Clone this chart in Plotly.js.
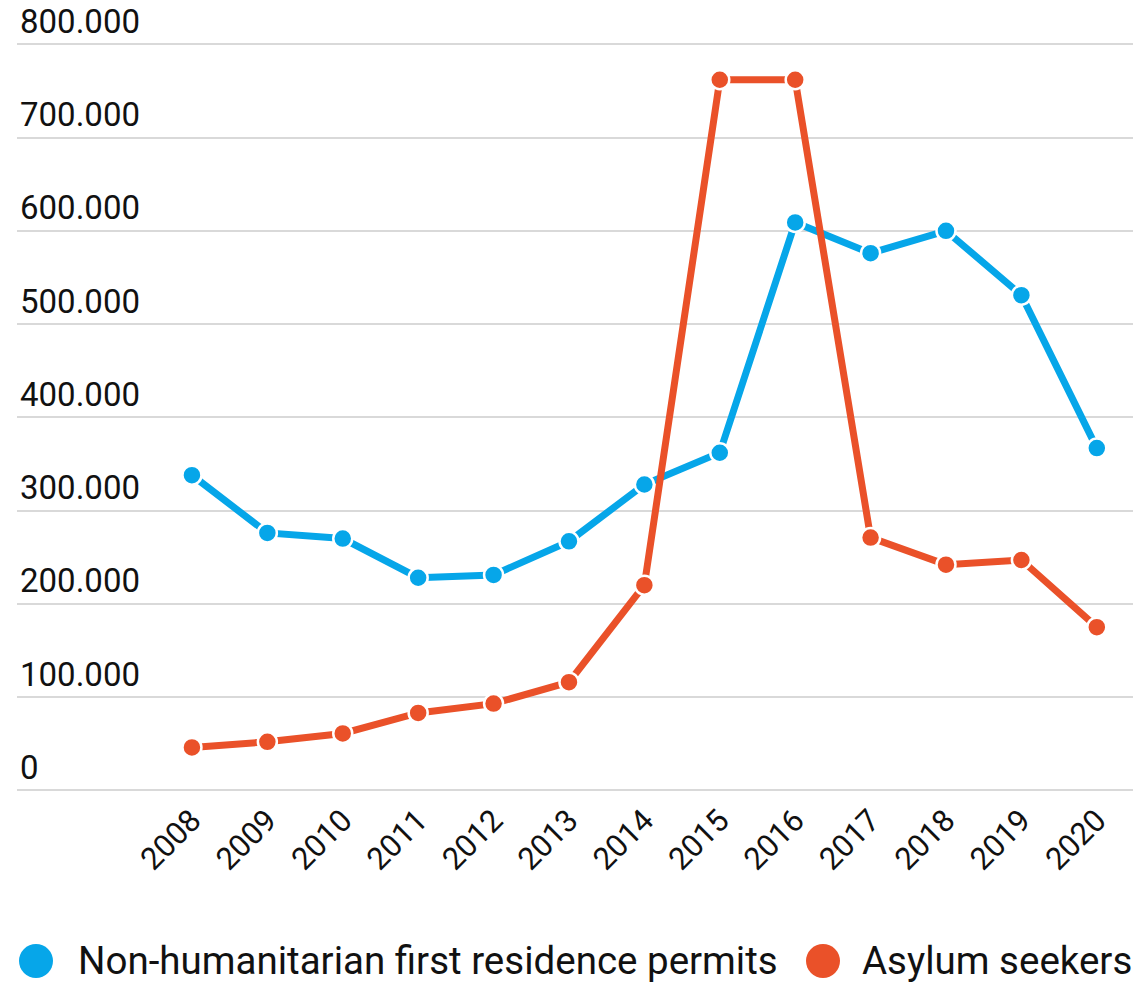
<!DOCTYPE html>
<html><head><meta charset="utf-8">
<script src="https://cdn.plot.ly/plotly-3.0.1.min.js"></script>
<style>html,body{margin:0;padding:0;background:#fff}#chart{width:1140px;height:983px}</style>
</head><body><div id="chart"></div>
<script>
const years = [2008,2009,2010,2011,2012,2013,2014,2015,2016,2017,2018,2019,2020];
const nonHumanitarian = [338000,276000,270000,228000,231000,267000,328000,362000,609000,576000,600000,531000,367000];
const asylumSeekers = [46000,52000,61000,83000,93000,116000,220000,762000,762000,271000,242000,247000,175000];
const seriesNames = ['Non-humanitarian first residence permits','Asylum seekers'];
const seriesColors = ['#06A6E9','#EA5129'];
const yTickVals = [0,100000,200000,300000,400000,500000,600000,700000,800000];
const yTickText = ['0','100.000','200.000','300.000','400.000','500.000','600.000','700.000','800.000'];

const W = 1140, H = 983;
const margin = {l: 17, r: 7, t: 0, b: 188};
const plotW = W - margin.l - margin.r, plotH = H - margin.t - margin.b;
const px2paperX = (px) => (px - margin.l) / plotW;
const px2paperY = (py) => (H - margin.b - py) / plotH;

const mk = (y, i) => ({
  x: years, y: y, type: 'scatter', mode: 'lines+markers', name: seriesNames[i],
  line: {color: seriesColors[i], width: 7},
  marker: {color: seriesColors[i], size: 19, line: {color: '#fff', width: 2.5}},
  cliponaxis: false, showlegend: false
});
const data = [mk(nonHumanitarian,0), mk(asylumSeekers,1)];

// custom legend (large circular swatches)
const legendY = 961;
const legendItems = [{cx: 36, tx: 76}, {cx: 823, tx: 860}];
const shapes = legendItems.map((it, i) => ({
  type: 'circle', xref: 'paper', yref: 'paper', xsizemode: 'pixel', ysizemode: 'pixel',
  xanchor: px2paperX(it.cx), yanchor: px2paperY(legendY),
  x0: -17, x1: 17, y0: -17, y1: 17,
  fillcolor: seriesColors[i], line: {width: 0}
}));
const annotations = legendItems.map((it, i) => ({
  xref: 'paper', yref: 'paper', x: px2paperX(it.tx), y: px2paperY(legendY - 1),
  xanchor: 'left', yanchor: 'middle', showarrow: false, text: seriesNames[i],
  font: {family: 'Roboto, sans-serif', size: 38.5, color: '#111'}
}));

const layout = {
  width: W, height: H, margin: margin,
  paper_bgcolor: '#fff', plot_bgcolor: '#fff',
  font: {family: 'Roboto, sans-serif', size: 30, color: '#111'},
  showlegend: false,
  shapes: shapes, annotations: annotations,
  xaxis: {range: [2005.68, 2020.48], tickvals: years, ticktext: years.map(String),
          tickangle: -45, showgrid: false, zeroline: false, showline: false, ticks: '',
          automargin: false, tickfont: {size: 31, color: '#111'}, fixedrange: true},
  yaxis: {range: [-5000, 847500], tickvals: yTickVals, ticktext: yTickText,
          ticklabelposition: 'inside top', showgrid: true, gridcolor: '#d9d9d9', gridwidth: 2,
          zeroline: false, showline: false, ticks: '', automargin: false,
          tickfont: {size: 33, color: '#111'}, fixedrange: true}
};
Plotly.newPlot('chart', data, layout, {displayModeBar: false, staticPlot: true});
</script></body></html>
